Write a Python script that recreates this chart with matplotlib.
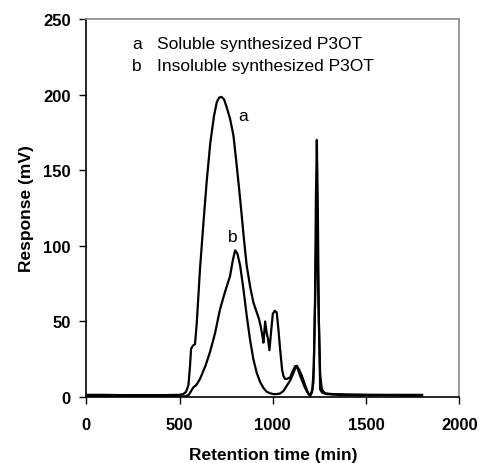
import matplotlib
matplotlib.use("Agg")
import matplotlib.pyplot as plt

plt.rcParams['font.family'] = ['Liberation Sans', 'DejaVu Sans']

# Curve a: soluble synthesized P3OT
a_x = [0, 100, 200, 300, 400, 500, 520, 535, 548, 556, 562, 572, 583, 592, 610, 630, 646, 665, 685, 700,
       712, 725, 738, 752, 771, 789, 805, 825, 845, 860, 880, 896, 914, 925, 935, 945, 950, 959, 968, 975,
       982, 990, 1000, 1010, 1021, 1030, 1039, 1050, 1057, 1066, 1075, 1093, 1106, 1120, 1133, 1147, 1160,
       1173, 1186, 1200, 1210, 1218, 1226, 1231, 1236, 1241, 1247, 1254, 1265, 1290, 1350, 1400, 1500, 1600,
       1700, 1800]
a_y = [1.5, 1.5, 1.3, 1.3, 1.3, 1.5, 2.0, 3.5, 8, 20, 32, 34, 35, 48, 85, 118, 143, 168, 186, 195,
       198, 198.5, 197, 192, 184, 173, 155, 131, 105, 87, 72, 62.6, 56, 52, 47, 40, 36, 50, 42, 38,
       31, 42, 55, 57, 56, 45, 32, 18, 14, 12, 12, 13, 17, 20.5, 19, 14, 10,
       6, 3, 1, 3, 10, 60, 130, 170, 130, 50, 5, 3, 2, 1.5, 1.3, 1.2, 1.2,
       1.0, 1.0]

# Curve b: insoluble synthesized P3OT
b_x = [0, 100, 200, 300, 400, 500, 530, 550, 574, 590, 610, 640, 664, 690, 717, 745, 771, 785, 798,
       810, 825, 842, 860, 878, 896, 914, 932, 950, 968, 986, 1004, 1022, 1039, 1057, 1075, 1093, 1111,
       1120, 1129, 1142, 1156, 1170, 1182, 1192, 1200, 1212, 1220, 1227, 1232, 1236, 1240, 1245, 1254,
       1263, 1280, 1320, 1400, 1500, 1600, 1700, 1800]
b_y = [0.5, 0.5, 0.5, 0.5, 0.5, 0.5, 0.5, 1.5, 6.4, 8, 12, 21, 30, 42, 58, 70, 80, 90, 97,
       95, 87, 72, 54, 38, 25, 16, 10, 6, 3.5, 2.5, 2, 2, 2.4, 4, 7.5, 11, 16,
       19, 20.7, 18, 14, 9, 5, 2, 1, 5, 20, 65, 100, 113, 95, 60, 15,
       5, 2.5, 2, 1.8, 1.6, 1.5, 1.5, 1.5]

x_ticks = [0, 500, 1000, 1500, 2000]
y_ticks = [0, 50, 100, 150, 200, 250]

fig = plt.figure(figsize=(4.79, 4.64), dpi=100)
ax = fig.add_axes([0.180, 0.142, 0.779, 0.815])

ax.plot(a_x, a_y, color='black', lw=1.6)
ax.plot(b_x, b_y, color='black', lw=1.6)

ax.set_xlim(0, 2000)
ax.set_ylim(0, 250)
ax.set_xticks(x_ticks)
ax.set_yticks(y_ticks)
ax.tick_params(direction='out', length=5, width=1, labelsize=12)
ax.tick_params(axis='x', pad=9)
ax.tick_params(axis='y', pad=6)
for lab in ax.get_xticklabels() + ax.get_yticklabels():
    lab.set_fontweight('bold')
ax.spines['left'].set_color('black')
ax.spines['bottom'].set_color('black')
ax.spines['top'].set_color('#888888')
ax.spines['right'].set_color('#888888')
for s in ax.spines.values():
    s.set_linewidth(1.2)

ax.set_xlabel('Retention time (min)', fontsize=12.5, fontweight='bold', labelpad=11)
ax.set_ylabel('Response (mV)', fontsize=12.5, fontweight='bold', labelpad=7)

ax.text(247, 233.5, 'a', fontsize=12.5, va='center')
ax.text(378, 233.5, 'Soluble synthesized P3OT', fontsize=12.5, va='center')
ax.text(247, 219, 'b', fontsize=12.5, va='center')
ax.text(378, 219, 'Insoluble synthesized P3OT', fontsize=12.5, va='center')

ax.text(840, 186, 'a', fontsize=12.5, ha='center', va='center')
ax.text(787, 106, 'b', fontsize=12.5, ha='center', va='center')

fig.savefig('out.png', dpi=100)
